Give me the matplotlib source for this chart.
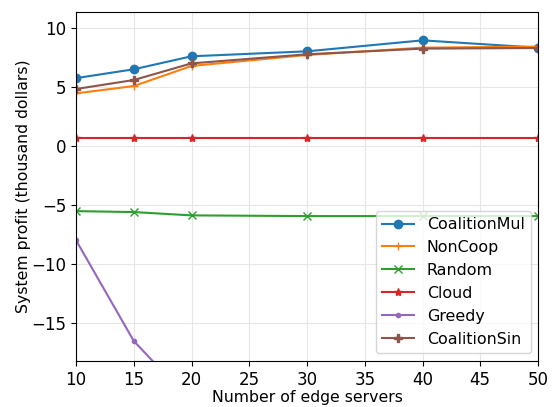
import numpy as np
import matplotlib
matplotlib.use('Agg')
import matplotlib.pyplot as plt

servers = [10, 15, 20, 30, 40, 50]

coalitionMul = [5.75, 6.5, 7.6, 8.02, 8.95, 8.33]
nonCoop = [4.46, 5.08, 6.78, 7.71, 8.33, 8.42]
randomAlloc = [-5.51, -5.59, -5.87, -5.93, -5.93, -5.93]
cloud = [0.65, 0.65, 0.65, 0.65, 0.65, 0.65]
greedy = [-7.97, -16.5, -21.7, -26.0, -30.0, -34.0]
coalitionSin = [4.83, 5.59, 7.0, 7.77, 8.25, 8.3]

fig = plt.figure(figsize=(5.56, 4.07), dpi=100)
ax = fig.add_axes([76/556, 1 - 361/407, (538-76)/556, (361-12)/407])

ax.plot(servers, coalitionMul, marker='o', color='#1f77b4', label='CoalitionMul')
ax.plot(servers, nonCoop, marker='+', color='#ff7f0e', label='NonCoop')
ax.plot(servers, randomAlloc, marker='x', color='#2ca02c', label='Random')
ax.plot(servers, cloud, marker='*', color='#d62728', label='Cloud')
ax.plot(servers, greedy, marker='.', color='#9467bd', label='Greedy')
ax.plot(servers, coalitionSin, marker='P', color='#8c564b', label='CoalitionSin')

ax.set_xlim(10, 50)
ax.set_ylim(-18.2, 11.35)
ax.set_xticks(np.arange(10, 51, 5))
ax.set_yticks([-15, -10, -5, 0, 5, 10])
ax.tick_params(labelsize=12)
ax.grid(True, color='#e6e6e6')
ax.set_axisbelow(True)

ax.set_xlabel('Number of edge servers', fontsize=11.3, labelpad=1)
ax.set_ylabel('System profit (thousand dollars)', fontsize=11.3, labelpad=0.5)
ax.legend(loc='lower right', fontsize=11.4, labelspacing=0.5, borderaxespad=0,
          bbox_to_anchor=(531/556, 1 - 353/407), bbox_transform=fig.transFigure)

plt.savefig('out.png', dpi=100)
